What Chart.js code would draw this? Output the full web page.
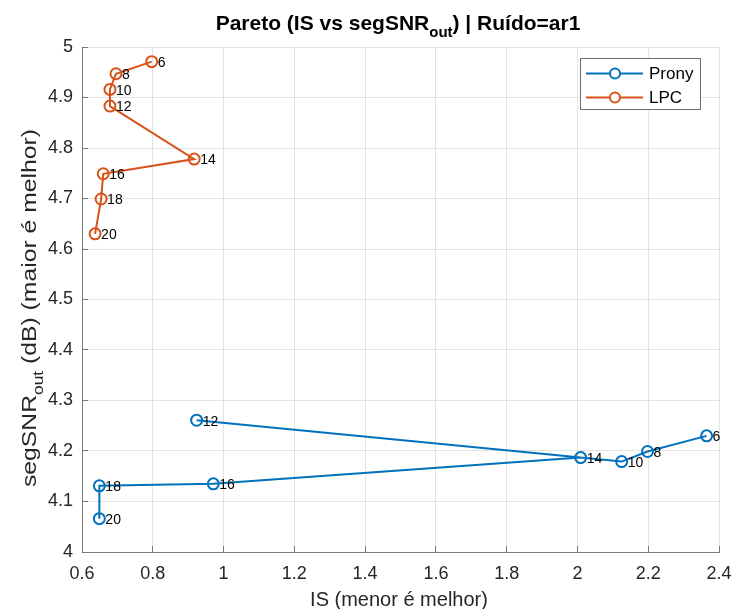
<!DOCTYPE html>
<html>
<head>
<meta charset="utf-8">
<script src="https://cdn.jsdelivr.net/npm/chart.js@4.4.1/dist/chart.umd.min.js"></script>
<style>
  body { margin: 0; background: #fff; }
  canvas { display: block; }
</style>
</head>
<body>
<canvas id="paretoChart" width="734" height="609"></canvas>
<script>
// model orders used as point labels
const orders = [6, 8, 10, 12, 14, 16, 18, 20];

// Prony
const pronyIS = [2.365, 2.198, 2.125, 0.924, 2.009, 0.971, 0.649, 0.649];
const pronySNR = [4.230, 4.199, 4.179, 4.261, 4.187, 4.135, 4.131, 4.066];

// LPC
const lpcIS = [0.797, 0.696, 0.679, 0.679, 0.917, 0.660, 0.654, 0.637];
const lpcSNR = [4.971, 4.947, 4.916, 4.883, 4.778, 4.749, 4.699, 4.630];

const xTickValues = [0.6, 0.8, 1, 1.2, 1.4, 1.6, 1.8, 2, 2.2, 2.4];
const yTickValues = [4, 4.1, 4.2, 4.3, 4.4, 4.5, 4.6, 4.7, 4.8, 4.9, 5];

const blue = "#0072BD";
const orange = "#D95319";
const axisColor = "#7a7a7a";
const textColor = "#262626";
const fontFamily = '"Liberation Sans", Arial, Helvetica, sans-serif';

function toPoints(xs, ys) {
    return xs.map((x, i) => ({ x: x, y: ys[i] }));
}

// text with one subscript part: before + sub + after
function subText(ctx, x, y, before, sub, after, size, subSize, weight) {
    ctx.font = weight + " " + size + "px " + fontFamily;
    let w1 = ctx.measureText(before).width;
    let w3 = ctx.measureText(after).width;
    ctx.font = weight + " " + subSize + "px " + fontFamily;
    let w2 = ctx.measureText(sub).width;
    let start = x - (w1 + w2 + w3) / 2;
    ctx.textAlign = "left";
    ctx.textBaseline = "alphabetic";
    ctx.font = weight + " " + size + "px " + fontFamily;
    ctx.fillText(before, start, y);
    ctx.font = weight + " " + subSize + "px " + fontFamily;
    ctx.fillText(sub, start + w1, y + 7);
    ctx.font = weight + " " + size + "px " + fontFamily;
    ctx.fillText(after, start + w1 + w2, y);
    return w1 + w2 + w3;
}

const overlay = {
    id: "overlay",
    afterDatasetsDraw(chart) {
        const ctx = chart.ctx;
        ctx.save();
        ctx.font = "14px " + fontFamily;
        ctx.fillStyle = "#000";
        ctx.textAlign = "left";
        ctx.textBaseline = "middle";
        chart.data.datasets.forEach((ds, i) => {
            chart.getDatasetMeta(i).data.forEach((pt, j) => {
                ctx.fillText(String(orders[j]), pt.x + 6, pt.y + 1.5);
            });
        });
        ctx.restore();
    },
    afterDraw(chart) {
        const ctx = chart.ctx;
        const a = chart.chartArea;
        const sx = chart.scales.x;
        const sy = chart.scales.y;
        ctx.save();

        // inward tick marks
        ctx.strokeStyle = axisColor;
        ctx.lineWidth = 1;
        ctx.beginPath();
        xTickValues.forEach(v => {
            let px = Math.floor(sx.getPixelForValue(v)) + 0.5;
            ctx.moveTo(px, a.bottom);
            ctx.lineTo(px, a.bottom - 6);
        });
        yTickValues.forEach(v => {
            let py = Math.floor(sy.getPixelForValue(v)) + 0.5;
            ctx.moveTo(a.left, py);
            ctx.lineTo(a.left + 6, py);
        });
        ctx.stroke();

        // title
        ctx.fillStyle = "#000";
        subText(ctx, 398, 30, "Pareto (IS vs segSNR", "out", ") | Ruído=ar1", 21, 15, "bold");

        // x label
        ctx.fillStyle = textColor;
        ctx.font = "20px " + fontFamily;
        ctx.textAlign = "center";
        ctx.textBaseline = "alphabetic";
        ctx.fillText("IS (menor é melhor)", 399, 606);

        // y label, rotated and a bit stretched like the source
        ctx.save();
        ctx.translate(36, 308);
        ctx.rotate(-Math.PI / 2);
        ctx.font = "20px " + fontFamily;
        let w = ctx.measureText("segSNR (dB) (maior é melhor)").width;
        ctx.font = "14px " + fontFamily;
        w += ctx.measureText("out").width;
        ctx.scale(358 / w, 1);
        subText(ctx, 0, 0, "segSNR", "out", " (dB) (maior é melhor)", 20, 14, "normal");
        ctx.restore();

        // legend
        let lx = 580.5, ly = 58.5, lw = 120, lh = 51;
        ctx.fillStyle = "#fff";
        ctx.fillRect(lx, ly, lw, lh);
        ctx.strokeStyle = "#6e6e6e";
        ctx.lineWidth = 1;
        ctx.strokeRect(lx, ly, lw, lh);
        let entries = [["Prony", blue, 73.5], ["LPC", orange, 97.5]];
        entries.forEach(e => {
            ctx.strokeStyle = e[1];
            ctx.lineWidth = 2;
            ctx.beginPath();
            ctx.moveTo(586, e[2]);
            ctx.lineTo(643, e[2]);
            ctx.stroke();
            ctx.fillStyle = "#fff";
            ctx.beginPath();
            ctx.arc(615, e[2], 5, 0, Math.PI * 2);
            ctx.fill();
            ctx.stroke();
            ctx.fillStyle = "#000";
            ctx.font = "17px " + fontFamily;
            ctx.textAlign = "left";
            ctx.textBaseline = "middle";
            ctx.fillText(e[0], 649, e[2] + 0.5);
        });

        ctx.restore();
    }
};

function lineSet(label, data, color) {
    return {
        label: label,
        data: data,
        borderColor: color,
        backgroundColor: "rgba(0,0,0,0)",
        borderWidth: 2,
        pointRadius: 5.5,
        pointHoverRadius: 5.5,
        pointBorderWidth: 2,
        pointBorderColor: color,
        pointBackgroundColor: "rgba(0,0,0,0)",
        showLine: true,
        tension: 0,
        fill: false
    };
}

new Chart(document.getElementById("paretoChart"), {
    type: "scatter",
    data: {
        datasets: [
            lineSet("Prony", toPoints(pronyIS, pronySNR), blue),
            lineSet("LPC", toPoints(lpcIS, lpcSNR), orange)
        ]
    },
    options: {
        responsive: false,
        devicePixelRatio: 1,
        animation: false,
        layout: { padding: { left: 0, top: 47, right: 15, bottom: 0 } },
        plugins: {
            legend: { display: false },
            title: { display: false },
            tooltip: { enabled: false }
        },
        scales: {
            x: {
                type: "linear",
                min: 0.6,
                max: 2.4,
                afterBuildTicks: s => { s.ticks = xTickValues.map(v => ({ value: v })); },
                afterFit: s => { s.height = 57; s.paddingLeft = 0; s.paddingRight = 0; },
                grid: { color: "#e3e3e3", drawTicks: false },
                border: { display: true, color: axisColor, width: 1 },
                ticks: {
                    padding: 11,
                    color: textColor,
                    font: { family: fontFamily, size: 18 },
                    maxRotation: 0,
                    callback: v => String(+v.toFixed(1))
                }
            },
            y: {
                type: "linear",
                min: 4,
                max: 5,
                afterBuildTicks: s => { s.ticks = yTickValues.map(v => ({ value: v })); },
                afterFit: s => { s.width = 82; s.paddingTop = 0; s.paddingBottom = 0; },
                grid: { color: "#e3e3e3", drawTicks: false },
                border: { display: true, color: axisColor, width: 1 },
                ticks: {
                    padding: 9,
                    color: textColor,
                    font: { family: fontFamily, size: 18 },
                    callback: v => String(+v.toFixed(1))
                }
            }
        }
    },
    plugins: [overlay]
});
</script>
</body>
</html>
